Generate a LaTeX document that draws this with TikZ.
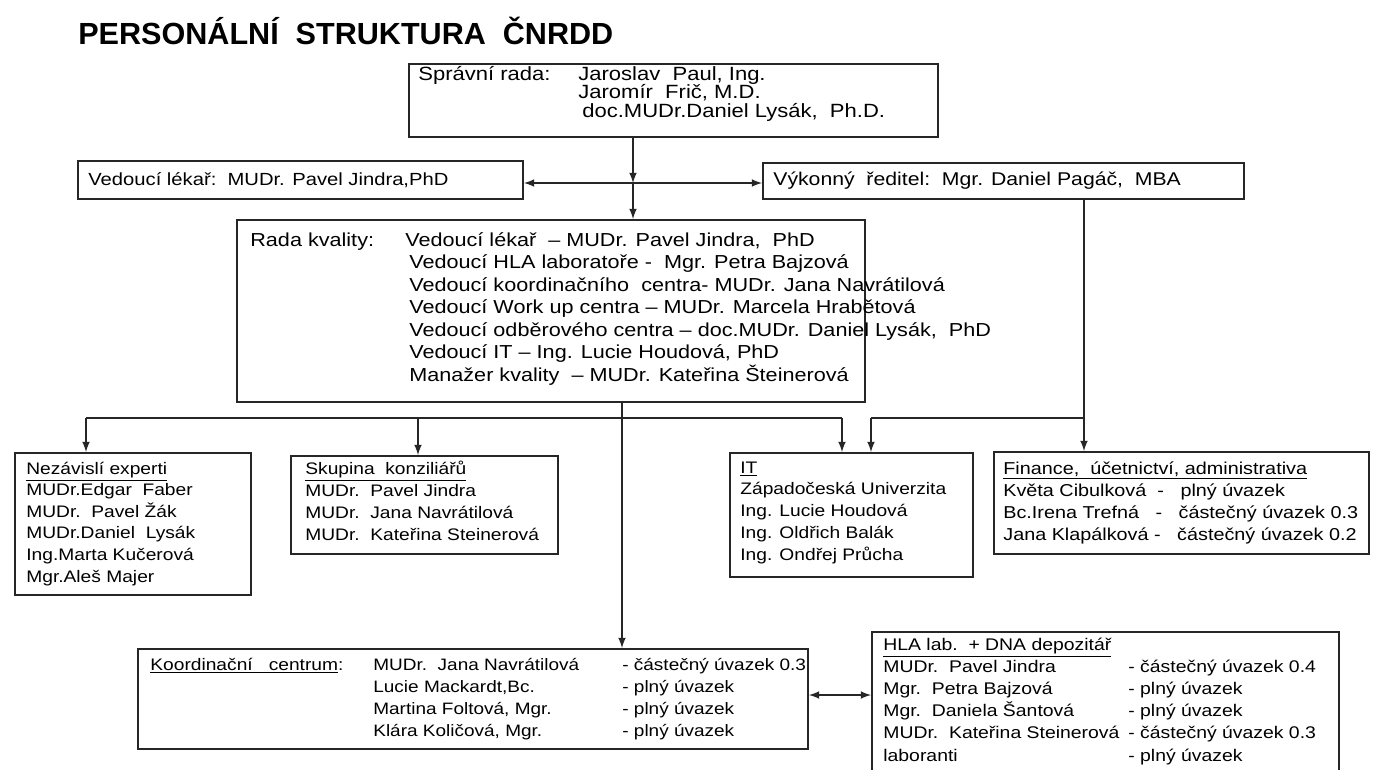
\documentclass[tikz,border=0pt]{standalone}
\usepackage{fontspec}
\setmainfont{Liberation Sans}[FakeStretch=1.15]
\newfontfamily\titlefont{Liberation Sans}
\usetikzlibrary{arrows}

\begin{document}
\begin{tikzpicture}[x=0.02cm,y=-0.02cm,
    box/.style={draw=black!85,rectangle,line width=1.2pt,anchor=north west,inner sep=0pt},
    txt/.style={anchor=base west,inner sep=0pt,font=\fontsize{#1}{12}\selectfont},
    txt/.default=10,
    line/.style={draw=black!85,line width=1pt},
    arr/.style={line,-latex}
  ]
  \useasboundingbox (0,0) rectangle (1373,769);
  \node[anchor=base west,inner sep=0pt,font=\titlefont\bfseries\fontsize{17.4}{20}\selectfont] (title) at (78,44) {PERSONÁLNÍ\ \ STRUKTURA\ \ ČNRDD};

  % boxes
  \node[box,minimum width=10.58cm,minimum height=1.46cm] (sprava) at (408,63) {};
  \node[box,minimum width=8.9cm,minimum height=0.76cm] (vedouci) at (77,160) {};
  \node[box,minimum width=9.62cm,minimum height=0.72cm] (vykonny) at (762,162) {};
  \node[box,minimum width=12.56cm,minimum height=3.64cm] (rada) at (236,219) {};
  \node[box,minimum width=4.72cm,minimum height=2.84cm] (nez) at (14,452) {};
  \node[box,minimum width=5.34cm,minimum height=1.96cm] (skup) at (290,455) {};
  \node[box,minimum width=4.86cm,minimum height=2.48cm] (it) at (729,452) {};
  \node[box,minimum width=7.5cm,minimum height=2.04cm] (fin) at (993,451) {};
  \node[box,minimum width=13.4cm,minimum height=2cm] (koord) at (137,648) {};
  \node[box,minimum width=9.34cm,minimum height=3.2cm] (hla) at (871,631) {};

  % texts
  \node[txt=10.9] (sr) at (418,80) {Správní rada:};
  \node[txt=10.9] (sr-0) at (578,80) {Jaroslav\ \ Paul, Ing.};
  \node[txt=10.9] (sr-1) at (578,98) {Jaromír\ \ Frič, M.D.};
  \node[txt=10.9] (sr-2) at (582,117) {doc.MUDr.Daniel Lysák,\ \ Ph.D.};
  \node[txt] (vl) at (88,185) {Vedoucí lékař:\ \ MUDr. Pavel Jindra,PhD};
  \node[txt=10.5] (vr) at (773,185) {Výkonný\ \ ředitel:\ \ Mgr. Daniel Pagáč,\ \ MBA};
  \node[txt=10.7] (rk) at (250,246) {Rada kvality:};
  \node[txt=10.7] (rk-0) at (405,246) {Vedoucí lékař\ \ – MUDr. Pavel Jindra,\ \ PhD};
  \foreach \t [count=\i] in {{Vedoucí HLA laboratoře -\ \ Mgr. Petra Bajzová},
      {Vedoucí koordinačního\ \ centra- MUDr. Jana Navrátilová},
      {Vedoucí Work up centra – MUDr. Marcela Hrabětová},
      {Vedoucí odběrového centra – doc.MUDr. Daniel Lysák,\ \ PhD},
      {Vedoucí IT – Ing. Lucie Houdová, PhD},
      {Manažer kvality\ \ – MUDr. Kateřina Šteinerová}}
    \node[txt=10.7] (rk-\i) at (409,246+22.5*\i) {\t};
  \foreach \t [count=\i from 0] in {\underline{Nezávislí experti},{MUDr.Edgar\ \ Faber},
      {MUDr.\ \ Pavel Žák},{MUDr.Daniel\ \ Lysák},{Ing.Marta\ Kučerová},{Mgr.Aleš Majer}}
    \node[txt=9.5] (nz-\i) at (26,474+21.6*\i) {\t};
  \foreach \t [count=\i from 0] in {\underline{Skupina\ \ konziliářů},{MUDr.\ \ Pavel Jindra},
      {MUDr.\ \ Jana Navrátilová},{MUDr.\ \ Kateřina Steinerová}}
    \node[txt=9.5] (sk-\i) at (305,474+22.3*\i) {\t};
  \foreach \t [count=\i from 0] in {\underline{IT},{Západočeská Univerzita},{Ing. Lucie Houdová},
      {Ing. Oldřich Balák},{Ing. Ondřej\ Průcha}}
    \node[txt=9.5] (it-\i) at (740,473+21.8*\i) {\t};
  \foreach \t [count=\i from 0] in {\underline{Finance,\ \ účetnictví,\ administrativa},
      {Květa Cibulková\ \ -\ \ \ plný úvazek},{Bc.Irena Trefná\ \ \ -\ \ \ částečný úvazek 0.3},
      {Jana Klapálková\ -\ \ \ částečný úvazek 0.2}}
    \node[txt=9.8] (fi-\i) at (1003,474+22.3*\i) {\t};
  \node[txt=9.5] (ko) at (150,670) {\underline{Koordinační\ \ \ centrum}:};
  \foreach \t/\s [count=\i from 0] in {{MUDr.\ \ Jana Navrátilová}/{- částečný úvazek\ 0.3},
      {Lucie Mackardt,Bc.}/{- plný úvazek},{Martina\ Foltová,\ Mgr.}/{- plný úvazek},
      {Klára Količová, Mgr.}/{- plný úvazek}}
    {\node[txt=9.4] (ko-\i) at (373,670+22*\i) {\t};
     \node[txt=9.4] (ku-\i) at (622,670+22*\i) {\s};}
  \node[txt=9.6] (hl) at (883,650) {\underline{HLA\ lab.\ \ + DNA\ depozitář}};
  \foreach \t/\s [count=\i] in {{MUDr.\ \ Pavel\ Jindra}/{- částečný úvazek\ 0.4},
      {Mgr.\ \ Petra Bajzová}/{- plný úvazek},{Mgr.\ \ Daniela Šantová}/{- plný úvazek},
      {MUDr.\ \ Kateřina Steinerová}/{- částečný úvazek\ 0.3},{laboranti}/{- plný úvazek}}
    {\node[txt=9.6] (hl-\i) at (883,650+22.2*\i) {\t};
     \node[txt=9.6] (hu-\i) at (1128,650+22.2*\i) {\s};}

  % connectors
  \coordinate (top) at (633,183);
  \draw[arr] (sprava.south -| top) -- (top);
  \draw[arr] (top) -- (rada.north -| top);
  \draw[line,latex-latex] (vedouci.east |- top) -- (vykonny.west |- top);
  \coordinate (mid) at (622,418);
  \coordinate (l1) at (86,418);
  \coordinate (l2) at (418,418);
  \coordinate (l3) at (842,418);
  \coordinate (r1) at (1084,418);
  \coordinate (r2) at (871,418);
  \draw[line] (rada.south -| mid) -- (mid);
  \draw[arr] (mid) -- (koord.north -| mid);
  \draw[line] (l1) -- (l3);
  \draw[arr] (l1) -- (nez.north -| l1);
  \draw[arr] (l2) -- (skup.north -| l2);
  \draw[arr] (l3) -- (it.north -| l3);
  \draw[arr] (vykonny.south -| r1) -- (fin.north -| r1);
  \draw[line] (r1) -- (r2);
  \draw[arr] (r2) -- (it.north -| r2);
  \coordinate (kh) at (840,695);
  \draw[line,latex-latex] (koord.east |- kh) -- (hla.west |- kh);
\end{tikzpicture}
\end{document}
